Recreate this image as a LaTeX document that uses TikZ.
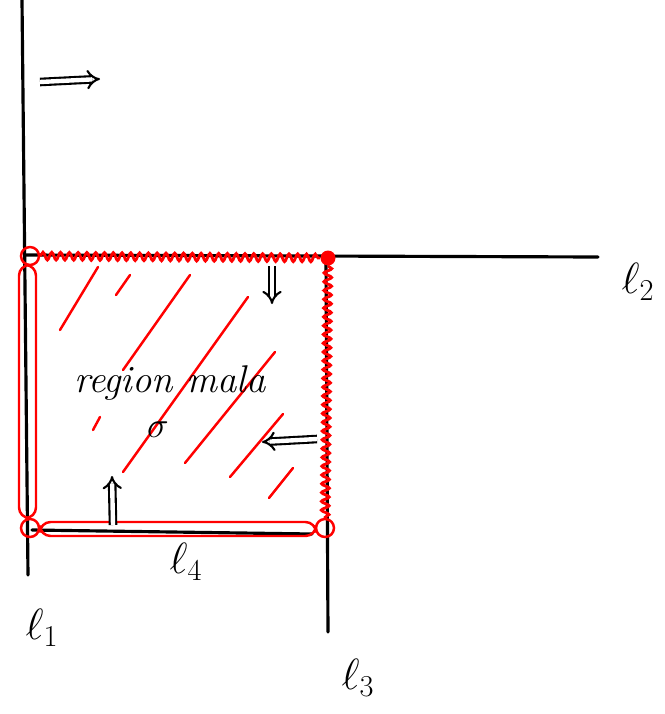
\documentclass[tikz,border=0pt]{standalone}
\usetikzlibrary{arrows.meta, decorations.pathmorphing, positioning, calc}

\begin{document}
\begin{tikzpicture}[x=0.02cm, y=-0.02cm]

\tikzstyle{line} = [black, line width=1.8pt, line cap=round]
\tikzstyle{redline} = [red, line width=1.4pt, rounded corners=6pt]
\tikzstyle{wiggle} = [red, line width=1.6pt, decorate, decoration={snake, amplitude=2.2pt, segment length=5pt}]
\tikzstyle{hatch} = [red, line width=1.4pt, line cap=round]
\tikzstyle{ring} = [circle, draw=red, line width=1.4pt, minimum size=0.36cm, inner sep=0pt]
\tikzstyle{dot} = [circle, fill=red, minimum size=0.3cm, inner sep=0pt]
\tikzstyle{dblarrow} = [double, double distance=2.5pt, line width=1.2pt, -{Implies[length=5pt]}]
\tikzstyle{lab} = [font=\fontsize{26}{30}\selectfont]
\tikzstyle{hand} = [font=\fontsize{22}{26}\selectfont\itshape]

\useasboundingbox (0,0) rectangle (664,714);

% Lines
\coordinate (l1top) at (22,0);
\coordinate (l1bot) at (28,575);
\coordinate (l2left) at (25,255);
\coordinate (l2right) at (598,257);
\coordinate (l3top) at (326,258);
\coordinate (l3bot) at (328,632);
\coordinate (l4left) at (32,530);
\coordinate (l4right) at (312,534);

\draw[line] (l1top) -- (l1bot);
\draw[line] (l2left) -- (l2right);
\draw[line] (l3top) -- (l3bot);
\draw[line] (l4left) -- (l4right);

\node[lab] (ell1) at (42,628) {$\ell_{1}$};
\node[lab] (ell2) at (638,282) {$\ell_{2}$};
\node[lab] (ell3) at (358,678) {$\ell_{3}$};
\node[lab] (ell4) at (186,562) {$\ell_{4}$};

% Implication
\coordinate (imps) at (40,82);
\coordinate (impe) at (100,79);
\draw[dblarrow] (imps) -- (impe);

% Hatching
\foreach \a/\b/\c/\d in {60/330/98/267, 116/295/130/275, 123/370/190/275, 93/430/100/417,
    123/472/248/297, 185/463/275/352, 230/477/283/414, 269/498/293/468}
  \draw[hatch] (\a,\b) -- (\c,\d);

% Corners
\node[ring] (cul) at (30,256) {};
\node[dot] (cur) at (328,258) {};
\node[ring] (cll) at (30,528) {};
\node[ring] (clr) at (325,528) {};

\draw[wiggle] (cul) -- (cur);
\draw[wiggle] (cur) -- (clr);
\draw[redline] (19,265) rectangle (36,518);
\draw[redline] (40,522) rectangle (316,536);

% Region
\node[hand] (bad) at (170,383) {region mala};
\node[hand] (sig) at (158,430) {$\sigma$};

% Arrows
\coordinate (dns) at (272,266);
\coordinate (dne) at (272,304);
\coordinate (lfs) at (317,439);
\coordinate (lfe) at (262,442);
\coordinate (ups) at (113,525);
\coordinate (upe) at (112,476);
\draw[dblarrow] (dns) -- (dne);
\draw[dblarrow] (lfs) -- (lfe);
\draw[dblarrow] (ups) -- (upe);

\end{tikzpicture}
\end{document}
